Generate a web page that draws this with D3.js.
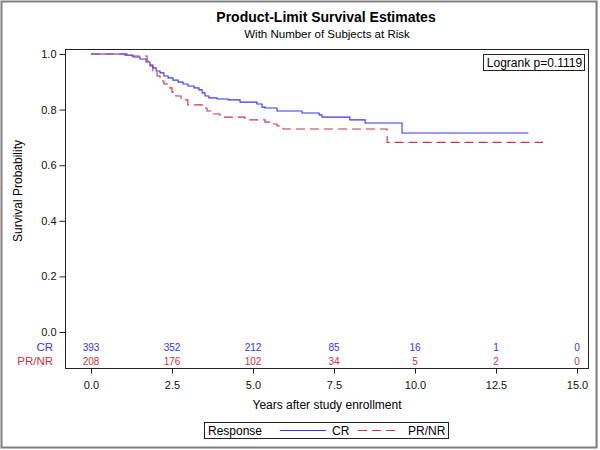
<!DOCTYPE html>
<html><head><meta charset="utf-8">
<script src="https://cdn.jsdelivr.net/npm/d3@7"></script>
<style>body{margin:0;background:#fff;font-family:"Liberation Sans",Arial,sans-serif}</style>
</head><body><svg id="c" width="600" height="450"></svg>
<script>
const crTimes = [0,1.05,1.30,1.51,1.70,1.82,1.91,2.01,2.13,2.25,2.38,2.53,2.69,2.84,2.99,3.18,3.33,3.43,3.52,3.64,3.89,4.23,4.60,5.12,5.28,5.37,5.74,6.51,7.04,7.13,7.99,8.46,9.60,13.5];
const crSurv  = [1,0.996,0.989,0.982,0.971,0.960,0.950,0.939,0.932,0.921,0.914,0.906,0.899,0.892,0.885,0.878,0.871,0.860,0.849,0.842,0.838,0.835,0.827,0.820,0.809,0.806,0.795,0.788,0.781,0.773,0.763,0.752,0.716,0.716];
const prTimes = [0,1.20,1.73,1.82,1.91,2.04,2.13,2.25,2.38,2.50,2.62,2.78,2.99,3.43,3.58,3.70,3.98,4.75,5.37,5.52,5.74,5.93,9.14,13.95];
const prSurv  = [1,0.993,0.975,0.957,0.939,0.921,0.903,0.892,0.878,0.863,0.849,0.835,0.817,0.806,0.795,0.784,0.773,0.763,0.755,0.748,0.741,0.730,0.682,0.682];
const riskTimes = [0,2.5,5,7.5,10,12.5,15];
const crRisk = [393,352,212,85,16,1,0];
const prRisk = [208,176,102,34,5,2,0];
const xTicks = [0,2.5,5,7.5,10,12.5,15];
const yTicks = [0,0.2,0.4,0.6,0.8,1.0];
const blue = "#3434f8", red = "#cc3344";

const svg = d3.select("#c");
const L=65, R=588, T=49, B=368;
const x = d3.scaleLinear().domain([0,15]).range([91,577]);
const y = d3.scaleLinear().domain([0,1]).range([332,54]);

// outer border
svg.append("rect").attr("x",1.5).attr("y",1.5).attr("width",595).attr("height",446)
  .attr("fill","none").attr("stroke","#808080").attr("stroke-width",2);
svg.append("line").attr("x1",597.5).attr("x2",597.5).attr("y1",1).attr("y2",448).attr("stroke","#b0b0b0");

// titles
svg.append("text").attr("x",326).attr("y",22).attr("text-anchor","middle")
  .attr("font-size",14).attr("font-weight","bold").text("Product-Limit Survival Estimates");
svg.append("text").attr("x",327).attr("y",38).attr("text-anchor","middle")
  .attr("font-size",11.5).text("With Number of Subjects at Risk");

// frame
svg.append("rect").attr("x",L+0.5).attr("y",T+0.5).attr("width",R-L).attr("height",B-T)
  .attr("fill","none").attr("stroke","#222").attr("stroke-width",1);

// y axis
const yAxis = d3.axisLeft(y).tickValues(yTicks).tickFormat(d3.format(".1f")).tickSize(6).tickPadding(3);
const gy = svg.append("g").attr("transform",`translate(${L+0.5},0)`).call(yAxis);
gy.select(".domain").remove();
gy.selectAll("text").attr("font-size",11).attr("font-family","Liberation Sans, Arial, sans-serif").attr("fill","#111");
gy.selectAll("line").attr("stroke","#222");
svg.append("text").attr("transform","translate(22,191) rotate(-90)").attr("text-anchor","middle")
  .attr("font-size",12).text("Survival Probability");

// x axis
const xAxis = d3.axisBottom(x).tickValues(xTicks).tickFormat(d3.format(".1f")).tickSize(5).tickPadding(8);
const gx = svg.append("g").attr("transform",`translate(0,${B+0.5})`).call(xAxis);
gx.select(".domain").remove();
gx.selectAll("text").attr("font-size",11).attr("font-family","Liberation Sans, Arial, sans-serif").attr("fill","#111");
gx.selectAll("line").attr("stroke","#222");
svg.append("text").attr("x",327).attr("y",409).attr("text-anchor","middle")
  .attr("font-size",12).text("Years after study enrollment");

// curves
const line = d3.line().x(d=>x(d[0])).y(d=>y(d[1])).curve(d3.curveStepAfter);
svg.append("path").datum(crTimes.map((t,i)=>[t,crSurv[i]])).attr("d",line)
  .attr("fill","none").attr("stroke",blue).attr("stroke-width",1.1);
svg.append("path").datum(prTimes.map((t,i)=>[t,prSurv[i]])).attr("d",line)
  .attr("fill","none").attr("stroke",red).attr("stroke-width",1.1).attr("stroke-dasharray","9,5");

// logrank box
svg.append("rect").attr("x",483.5).attr("y",54.5).attr("width",101).attr("height",16)
  .attr("fill","#fff").attr("stroke","#222");
svg.append("text").attr("x",534.5).attr("y",67).attr("text-anchor","middle").attr("font-size",12).text("Logrank p=0.1119");

// risk table
svg.append("text").attr("x",53).attr("y",351).attr("text-anchor","end").attr("font-size",11.5).attr("fill",blue).text("CR");
svg.append("text").attr("x",53).attr("y",365).attr("text-anchor","end").attr("font-size",11.5).attr("fill",red).text("PR/NR");
svg.append("g").selectAll("text").data(crRisk).join("text")
  .attr("x",(d,i)=>x(riskTimes[i])).attr("y",350.5).attr("text-anchor","middle")
  .attr("font-size",10).attr("fill",blue).text(d=>d);
svg.append("g").selectAll("text").data(prRisk).join("text")
  .attr("x",(d,i)=>x(riskTimes[i])).attr("y",364.5).attr("text-anchor","middle")
  .attr("font-size",10).attr("fill",red).text(d=>d);

// legend
svg.append("rect").attr("x",204.5).attr("y",422.5).attr("width",244).attr("height",16)
  .attr("fill","#fff").attr("stroke","#222");
svg.append("text").attr("x",208).attr("y",435).attr("font-size",12).text("Response");
svg.append("line").attr("x1",280).attr("x2",326).attr("y1",430.5).attr("y2",430.5).attr("stroke",blue).attr("stroke-width",1.1);
svg.append("text").attr("x",332).attr("y",435).attr("font-size",12).text("CR");
svg.append("line").attr("x1",358).attr("x2",399).attr("y1",430.5).attr("y2",430.5).attr("stroke",red).attr("stroke-width",1.1).attr("stroke-dasharray","9,5");
svg.append("text").attr("x",408).attr("y",435).attr("font-size",12).text("PR/NR");
</script></body></html>
